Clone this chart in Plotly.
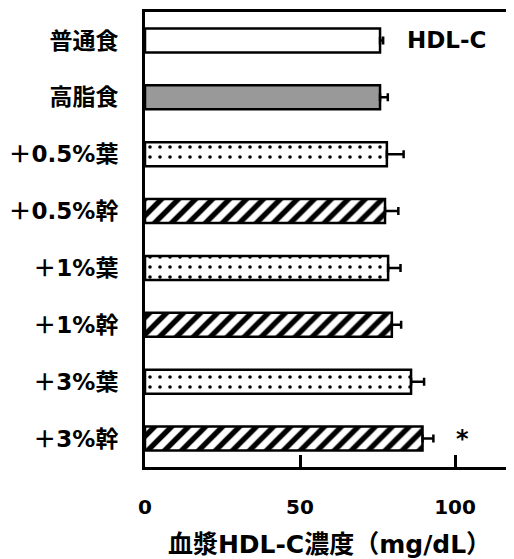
import plotly.graph_objects as go

categories = ["普通食", "高脂食", "＋0.5%葉", "＋0.5%幹", "＋1%葉", "＋1%幹", "＋3%葉", "＋3%幹"]
values = [75.8, 75.8, 78.0, 77.4, 78.4, 79.6, 85.8, 89.5]
errors = [1.0, 2.5, 5.4, 4.3, 4.0, 3.0, 4.2, 3.5]
tick_vals = [0, 50, 100]
tick_text = ["0", "50", "100"]

fills = ["white", "#999999", "white", "white", "white", "white", "white", "white"]
shapes = ["", "", ".", "/", ".", "/", ".", "/"]

FONT = "DejaVu Sans, Noto Sans CJK JP, sans-serif"

fig = go.Figure()
groups = [("", None, None, "white"), ("", None, None, "#999999"),
          (".", 10, 0.1, "white"), ("/", 12, 0.45, "white")]
for shp, size, sol, col in groups:
    idx = [i for i, s in enumerate(shapes) if s == shp and fills[i] == col]
    if shp:
        pattern = dict(shape=shp, fgcolor="black", bgcolor="white", size=size,
                       solidity=sol, fgopacity=1, fillmode="replace")
    else:
        pattern = dict(shape="")
    fig.add_trace(go.Bar(
        y=[categories[i] for i in idx],
        x=[values[i] for i in idx],
        orientation="h",
        width=0.42,
        marker=dict(color=col, line=dict(color="black", width=2.5), pattern=pattern),
        error_x=dict(type="data", array=[errors[i] for i in idx],
                     arrayminus=[0] * len(idx), symmetric=False,
                     color="black", thickness=2.5, width=4),
        showlegend=False,
    ))

fig.add_annotation(x=84, y=categories[0], text="<b>HDL-C</b>", xanchor="left",
                   showarrow=False, font=dict(family=FONT, size=23, color="black"))
fig.add_annotation(x=102.3, y=categories[7], text="<b>*</b>", xanchor="center",
                   showarrow=False, font=dict(family=FONT, size=24, color="black"))

fig.update_layout(
    width=506, height=551,
    margin=dict(l=137, r=0, t=4, b=92),
    plot_bgcolor="white", paper_bgcolor="white",
    font=dict(family=FONT, color="black"),
    barmode="overlay",
)
fig.update_xaxes(
    range=[0, 119], tickvals=tick_vals, ticktext=[f"<b>{t}</b>" for t in tick_text],
    showline=True, linecolor="black", linewidth=3, mirror=True,
    ticks="inside", ticklen=12, tickwidth=2.5, tickcolor="black",
    showgrid=False, zeroline=False, automargin=False,
    tickfont=dict(family=FONT, size=20, color="black"),
    ticklabelstandoff=20,
    title=dict(text="<b>血漿HDL-C濃度（mg/dL）</b>", font=dict(family=FONT, size=25, color="black"), standoff=22),
)
fig.update_yaxes(
    categoryorder="array", categoryarray=categories, autorange="reversed",
    ticktext=[f"<b>{c}</b>" for c in categories], tickvals=categories,
    showline=True, linecolor="black", linewidth=3, mirror=False,
    ticks="", showgrid=False, zeroline=False, automargin=False,
    tickfont=dict(family=FONT, size=23, color="black"),
    ticklabelstandoff=19,
)

fig.write_html("out.html")
